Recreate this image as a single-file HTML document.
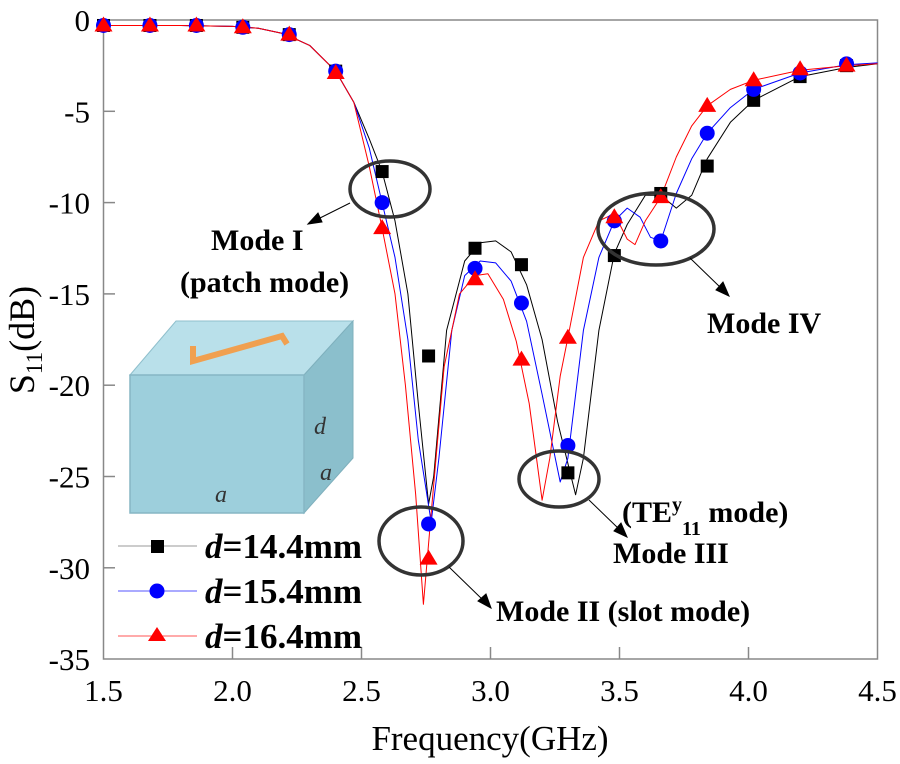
<!DOCTYPE html>
<html><head><meta charset="utf-8"><style>
body{margin:0;background:#fff;}
svg, svg text{font-family:"Liberation Serif","DejaVu Serif",serif;}
</style></head><body>
<svg id="s" width="900" height="759" viewBox="0 0 900 759" xmlns="http://www.w3.org/2000/svg" font-family="Liberation Serif, serif">
<rect x="103.5" y="20" width="774" height="639" fill="none" stroke="#888" stroke-width="1.5"/>
<g id="ticks" stroke="#888" stroke-width="1.5"></g>
<g font-size="31" fill="#000" text-anchor="end" id="yl"></g>
<g font-size="31" fill="#000" text-anchor="middle" id="xl"></g>
<text x="490" y="750" font-size="35" text-anchor="middle">Frequency(GHz)</text>
<text transform="translate(34,340) rotate(-90)" font-size="36" text-anchor="middle">S<tspan font-size="23" dy="8">11</tspan><tspan dy="-8">(dB)</tspan></text>
<!-- cube -->
<polygon points="130,375 176,321 353,321 304,375" fill="#b9e0ea" stroke="#8fbfcc"/>
<polygon points="304,375 353,321 353,458 304,513" fill="#8bbfcc" stroke="#7fb0bd"/>
<rect x="130" y="375" width="174" height="138" fill="#9dcfdc" stroke="#86b6c4" stroke-width="1.5"/>
<polyline points="193,346 193,361 282,336 287,344" fill="none" stroke="#f0a050" stroke-width="6"/>
<text x="314" y="434" font-size="24" font-style="italic" fill="#333">d</text>
<text x="320" y="480" font-size="24" font-style="italic" fill="#333">a</text>
<text x="215" y="502" font-size="24" font-style="italic" fill="#333">a</text>
<g id="curves" fill="none" stroke-width="1"></g>
<g id="marks"></g>
<!-- ellipses -->
<g fill="none" stroke="#333" stroke-width="3.5">
<ellipse cx="390" cy="189" rx="40" ry="28"/>
<ellipse cx="421" cy="541" rx="42" ry="34"/>
<ellipse cx="559" cy="479" rx="40" ry="28"/>
<ellipse cx="656" cy="229" rx="58" ry="36"/>
</g>
<g stroke="#000" stroke-width="1" fill="#000">
<line x1="350" y1="203" x2="318" y2="219"/><polygon points="308,224 318,213 322,222"/>
<line x1="449" y1="567" x2="484" y2="601"/><polygon points="491,608 478,601 486,594"/>
<line x1="589" y1="500" x2="620" y2="530"/><polygon points="627,537 614,531 621,523"/>
<line x1="690" y1="258" x2="722" y2="289"/><polygon points="729,296 716,290 723,282"/>
</g>
<g font-size="30" font-weight="bold" fill="#000">
<text x="211" y="250">Mode I</text>
<text x="180" y="292">(patch mode)</text>
<text x="707" y="333">Mode IV</text>
<text x="622" y="522">(TE<tspan font-size="20" dy="-11">y</tspan><tspan font-size="20" dy="24">11</tspan><tspan dy="-13"> mode)</tspan></text>
<text x="613" y="563">Mode III</text>
<text x="496" y="621">Mode II  (slot mode)</text>
</g>
<!-- legend -->
<g stroke-width="1">
<line x1="118" y1="546" x2="197" y2="546" stroke="#999"/>
<line x1="118" y1="591" x2="197" y2="591" stroke="#55f"/>
<line x1="118" y1="636" x2="197" y2="636" stroke="#f55"/>
</g>
<rect x="151" y="540" width="13" height="13" fill="#000"/>
<circle cx="157" cy="591" r="7.5" fill="#00f"/>
<polygon points="157,627 166,641 148,641" fill="#f00"/>
<g font-size="35" font-weight="bold" fill="#000">
<text x="205" y="558"><tspan font-style="italic">d</tspan>=14.4mm</text>
<text x="205" y="603"><tspan font-style="italic">d</tspan>=15.4mm</text>
<text x="205" y="648"><tspan font-style="italic">d</tspan>=16.4mm</text>
</g>
</svg>
<script>
const NS="http://www.w3.org/2000/svg";
const X=f=>103.5+(f-1.5)*258, Y=d=>20-d*18.26;
function el(t,a,p){const e=document.createElementNS(NS,t);for(const k in a)e.setAttribute(k,a[k]);document.getElementById(p).appendChild(e);return e;}
for(let d=0;d>=-35;d-=5){const y=Y(d);if(d>-35&&d<0)el('line',{x1:103.5,y1:y,x2:115,y2:y},'ticks');el('text',{x:90,y:y+11},'yl').textContent=d;}
for(let f=1.5;f<=4.51;f+=0.5){const x=X(f);if(f>1.6&&f<4.4)el('line',{x1:x,y1:659,x2:x,y2:647},'ticks');el('text',{x:x,y:701},'xl').textContent=f.toFixed(1);}
const base=[[1.5,-0.3],[1.8,-0.3],[2.0,-0.35],[2.1,-0.45],[2.2,-0.75],[2.3,-1.4],[2.4,-2.8],[2.47,-4.5]];
const C={
k:base.concat([[2.53,-6.5],[2.58,-8.3],[2.63,-11],[2.68,-15],[2.72,-21],[2.76,-26.5],[2.78,-25],[2.83,-17],[2.9,-13.2],[2.96,-12.2],[3.02,-12.1],[3.08,-12.7],[3.14,-14.5],[3.2,-17.5],[3.26,-22],[3.33,-26],[3.36,-24],[3.42,-17],[3.48,-12.8],[3.53,-11.2],[3.6,-9.6],[3.66,-9.6],[3.72,-10.3],[3.78,-9.6],[3.84,-7.6],[3.93,-5.6],[4.02,-4.4],[4.2,-3.1],[4.38,-2.6],[4.5,-2.4]]),
b:base.concat([[2.53,-7],[2.58,-10],[2.63,-13],[2.68,-17.5],[2.72,-23],[2.77,-27.5],[2.8,-24],[2.85,-17],[2.9,-14],[2.96,-13.2],[3.02,-13.3],[3.08,-14.3],[3.14,-16.5],[3.2,-20.5],[3.27,-25.3],[3.3,-24],[3.36,-17],[3.42,-13],[3.48,-11],[3.53,-10.3],[3.58,-10.8],[3.62,-11.9],[3.66,-12.1],[3.72,-9.5],[3.78,-7.6],[3.84,-6.2],[3.93,-4.8],[4.02,-3.8],[4.2,-2.9],[4.38,-2.45],[4.5,-2.35]]),
r:base.concat([[2.53,-8],[2.58,-11.4],[2.63,-15],[2.67,-20],[2.71,-26],[2.74,-32],[2.77,-27],[2.82,-19],[2.88,-15],[2.94,-14],[2.99,-13.9],[3.05,-15.3],[3.1,-17.6],[3.15,-21],[3.2,-26.3],[3.23,-24],[3.27,-19.5],[3.3,-17.4],[3.36,-13],[3.42,-11],[3.48,-10.6],[3.53,-12],[3.56,-12.3],[3.6,-11],[3.66,-9.7],[3.72,-7.5],[3.78,-5.8],[3.84,-4.7],[3.93,-3.8],[4.02,-3.3],[4.2,-2.75],[4.38,-2.5],[4.5,-2.4]])};
const col={k:'#000',b:'#00f',r:'#f00'};
for(const k in C)el('polyline',{points:C[k].map(p=>X(p[0]).toFixed(1)+','+Y(p[1]).toFixed(1)).join(' '),stroke:col[k],'stroke-linejoin':'round'},'curves');
const fs=[1.5,1.68,1.86,2.04,2.22,2.4,2.58,2.76,2.94,3.12,3.3,3.48,3.66,3.84,4.02,4.2,4.38];
const M={k:[-0.3,-0.3,-0.3,-0.4,-0.8,-2.8,-8.3,-18.4,-12.5,-13.4,-24.8,-12.9,-9.5,-8.0,-4.4,-3.1,-2.5],
b:[-0.3,-0.3,-0.3,-0.4,-0.8,-2.8,-10.0,-27.6,-13.6,-15.5,-23.3,-11.0,-12.1,-6.2,-3.8,-2.9,-2.4],
r:[-0.3,-0.3,-0.3,-0.4,-0.8,-2.9,-11.4,-29.5,-14.2,-18.6,-17.4,-10.8,-9.7,-4.7,-3.3,-2.7,-2.5]};
fs.forEach((f,i)=>{const x=X(f);
let y=Y(M.k[i]);el('rect',{x:x-6.5,y:y-6.5,width:13,height:13,fill:'#000'},'marks');
y=Y(M.b[i]);el('circle',{cx:x,cy:y,r:7.5,fill:'#00f'},'marks');
y=Y(M.r[i]);el('polygon',{points:`${x},${y-9} ${x+9},${y+6} ${x-9},${y+6}`,fill:'#f00'},'marks');});
</script>
</body></html>
